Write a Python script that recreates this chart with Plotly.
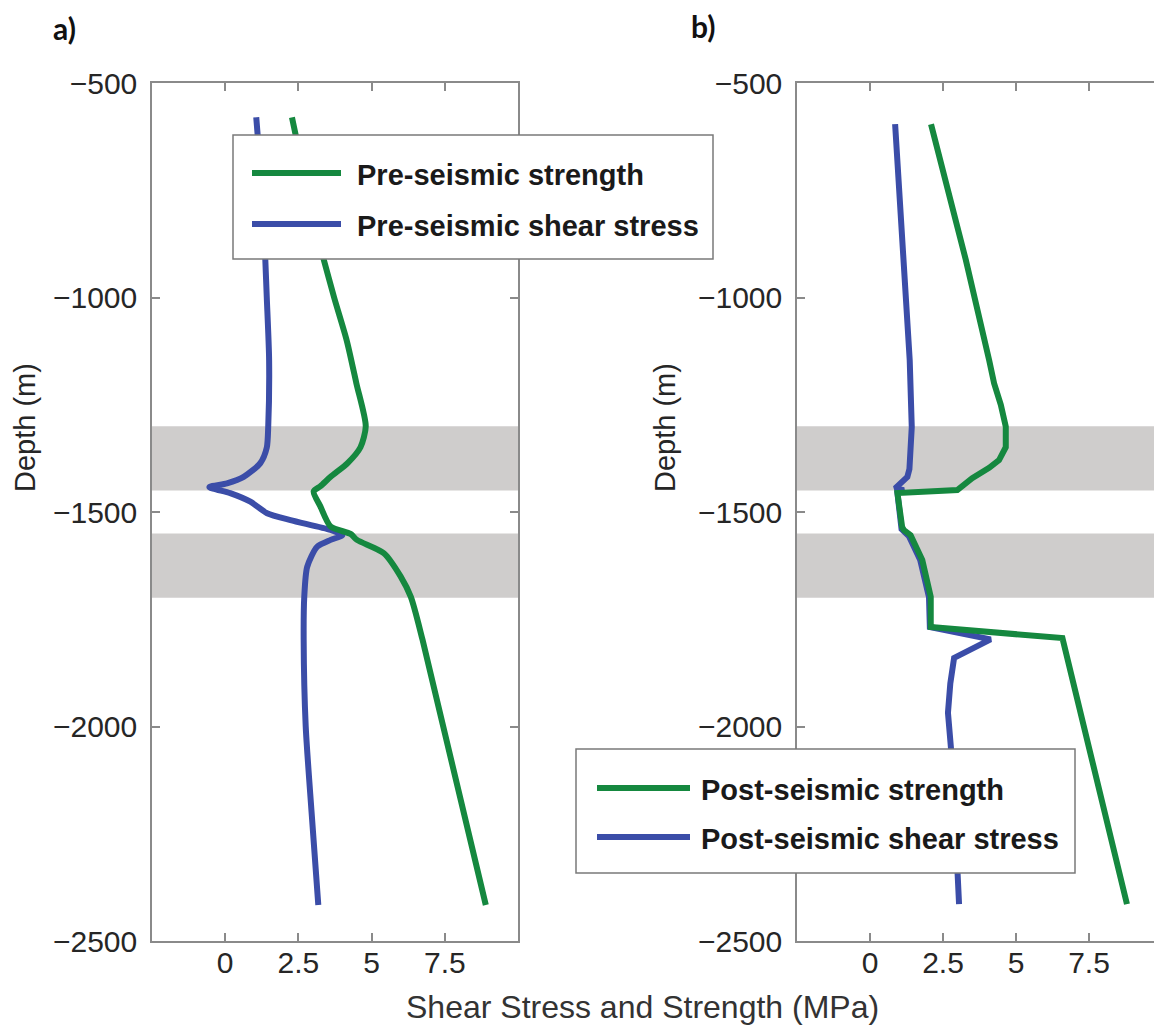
import plotly.graph_objects as go

# ---------------- data ----------------
pre_strength_depth = [-580, -700, -800, -910, -1000, -1100, -1200, -1300, -1349, -1386, -1418,
                      -1440, -1452, -1487, -1534, -1551, -1565, -1596, -1650, -1698, -1798, -2416]
pre_strength = [2.28, 2.65, 2.95, 3.36, 3.72, 4.15, 4.48, 4.8, 4.62, 4.18, 3.6,
                3.25, 3.02, 3.25, 3.6, 4.28, 4.5, 5.42, 5.99, 6.34, 6.74, 8.9]

pre_stress_depth = [-580, -700, -800, -912, -1000, -1146, -1300, -1350, -1386, -1418, -1433, -1442,
                    -1456, -1476, -1503, -1519, -1542, -1554, -1565, -1581, -1628, -1698, -1798,
                    -2000, -2200, -2416]
pre_stress = [1.06, 1.2, 1.3, 1.37, 1.42, 1.5, 1.47, 1.42, 1.2, 0.63, 0.06, -0.54,
              0.17, 0.86, 1.43, 2.23, 3.6, 4.0, 3.6, 3.14, 2.8, 2.7, 2.68,
              2.75, 2.95, 3.18]

post_strength_depth = [-596, -912, -1146, -1200, -1250, -1301, -1349, -1379, -1397, -1421, -1449,
                       -1456, -1535, -1542, -1554, -1612, -1698, -1768, -1794, -2414]
post_strength = [2.09, 3.28, 4.08, 4.25, 4.48, 4.65, 4.65, 4.42, 4.08, 3.5, 2.99,
                 0.94, 1.1, 1.16, 1.39, 1.79, 2.08, 2.08, 6.59, 8.8]

post_stress_depth = [-596, -1146, -1302, -1400, -1418, -1429, -1445, -1449, -1456, -1540, -1556,
                     -1612, -1698, -1768, -1797, -1840, -1900, -1968, -2048, -2200, -2414]
post_stress = [0.86, 1.36, 1.43, 1.35, 1.28, 1.11, 0.86, 1.16, 0.94, 1.08, 1.33,
               1.72, 2.02, 2.05, 4.13, 2.88, 2.75, 2.67, 2.77, 2.9, 3.05]

band_top = [-1300, -1550]
band_bottom = [-1450, -1700]

x_tickvals = [0, 2.5, 5, 7.5]
x_ticktext = ["0", "2.5", "5", "7.5"]
y_tickvals = [-2500, -2000, -1500, -1000, -500]
y_ticktext = ["\u22122500", "\u22122000", "\u22121500", "\u22121000", "\u2212500"]

legend_a = ["Pre-seismic strength", "Pre-seismic shear stress"]
legend_b = ["Post-seismic strength", "Post-seismic shear stress"]

# ---------------- style ----------------
W, H = 1154, 1034
GREEN = "#15883f"
BLUE = "#3b4da8"
BAND = "#cfcdcc"
AXC = "#8a8a8a"
TXT = "#262626"
FONT = "Liberation Sans, Arial, sans-serif"
LW = 6


def px(x):
    return x / W


def py(y):
    return 1 - y / H


fig = go.Figure()

fig.add_trace(go.Scatter(x=pre_stress, y=pre_stress_depth, mode="lines",
                         line=dict(color=BLUE, width=LW, shape="spline", smoothing=0.7),
                         xaxis="x", yaxis="y", name=legend_a[1], showlegend=False))
fig.add_trace(go.Scatter(x=pre_strength, y=pre_strength_depth, mode="lines",
                         line=dict(color=GREEN, width=LW, shape="spline", smoothing=0.7),
                         xaxis="x", yaxis="y", name=legend_a[0], showlegend=False))
fig.add_trace(go.Scatter(x=post_stress, y=post_stress_depth, mode="lines",
                         line=dict(color=BLUE, width=LW), xaxis="x2", yaxis="y2",
                         name=legend_b[1], showlegend=False))
fig.add_trace(go.Scatter(x=post_strength, y=post_strength_depth, mode="lines",
                         line=dict(color=GREEN, width=LW), xaxis="x2", yaxis="y2",
                         name=legend_b[0], showlegend=False))

shapes = []
for xr, yr in (("x domain", "y"), ("x2 domain", "y2")):
    for t, b in zip(band_top, band_bottom):
        shapes.append(dict(type="rect", xref=xr, yref=yr, x0=0, x1=1, y0=b, y1=t,
                           fillcolor=BAND, line=dict(width=0), layer="below"))

annotations = []


def add_legend(x0, y0, x1, y1, lx0, lx1, rows, texts, tx):
    shapes.append(dict(type="rect", xref="paper", yref="paper",
                       x0=px(x0), x1=px(x1), y0=py(y1), y1=py(y0),
                       fillcolor="white", line=dict(color="#7a7a7a", width=1.5),
                       layer="above"))
    for (ry, col, txt) in zip(rows, (GREEN, BLUE), texts):
        shapes.append(dict(type="line", xref="paper", yref="paper",
                           x0=px(lx0), x1=px(lx1), y0=py(ry), y1=py(ry),
                           line=dict(color=col, width=6), layer="above"))
        annotations.append(dict(xref="paper", yref="paper", x=px(tx), y=py(ry + 2),
                                xanchor="left", yanchor="middle", showarrow=False,
                                text="<b>%s</b>" % txt,
                                font=dict(family=FONT, size=29, color="#1a1a1a")))


add_legend(233, 135, 713, 259, 252, 341, (173, 224), legend_a, 355)
add_legend(576, 749, 1075, 873, 597, 690, (788, 837), legend_b, 699)

# y titles
for xc in (25, 665):
    annotations.append(dict(xref="paper", yref="paper", x=px(xc), y=py(428),
                            xanchor="center", yanchor="middle", showarrow=False,
                            text="Depth (m)", textangle=-90,
                            font=dict(family=FONT, size=29, color=TXT)))
# x title
annotations.append(dict(xref="paper", yref="paper", x=px(642), y=py(1007),
                        xanchor="center", yanchor="middle", showarrow=False,
                        text="Shear Stress and Strength (MPa)",
                        font=dict(family=FONT, size=32, color="#333333")))
# panel labels
for lab, xc, yc in (("a)", 64, 28), ("b)", 703, 26)):
    annotations.append(dict(xref="paper", yref="paper", x=px(xc), y=py(yc),
                            xanchor="center", yanchor="middle", showarrow=False,
                            text="<b>%s</b>" % lab,
                            font=dict(family="Lato, Open Sans, sans-serif", size=30, color="#111111")))

ydom = [1 - 941 / H, 1 - 83 / H]
xdom1 = [152 / W, 518 / W]
xdom2 = [797 / W, 1.0]
x2max = -2.5 + (W - 797) / 73 * 2.5

common_x = dict(tickvals=x_tickvals, ticktext=x_ticktext, ticks="inside", ticklen=8,
                tickwidth=1.5, tickcolor=AXC, showline=True, linecolor=AXC, linewidth=1.5,
                showgrid=False, zeroline=False, automargin=False,
                tickfont=dict(family=FONT, size=30, color=TXT), ticklabelstandoff=-6)
common_y = dict(tickvals=y_tickvals, ticktext=y_ticktext, ticks="inside", ticklen=8,
                tickwidth=1.5, tickcolor=AXC, showline=True, linecolor=AXC, linewidth=1.5,
                showgrid=False, zeroline=False, range=[-2500, -500], automargin=False,
                tickfont=dict(family=FONT, size=30, color=TXT), ticklabelstandoff=7)

fig.update_layout(
    width=W, height=H,
    margin=dict(l=0, r=0, t=0, b=0, pad=0),
    autosize=False,
    paper_bgcolor="white", plot_bgcolor="white",
    showlegend=False,
    xaxis=dict(domain=xdom1, anchor="y", range=[-2.5, 10], mirror="ticks", **common_x),
    yaxis=dict(domain=ydom, anchor="x", mirror="ticks", **common_y),
    xaxis2=dict(domain=xdom2, anchor="y2", range=[-2.5, x2max], mirror="ticks", **common_x),
    yaxis2=dict(domain=ydom, anchor="x2", mirror=False, **common_y),
    shapes=shapes,
    annotations=annotations,
)

fig.write_html("out.html", config={"displayModeBar": False},
               post_script="document.body.style.margin='0';document.body.style.overflow='hidden';")
